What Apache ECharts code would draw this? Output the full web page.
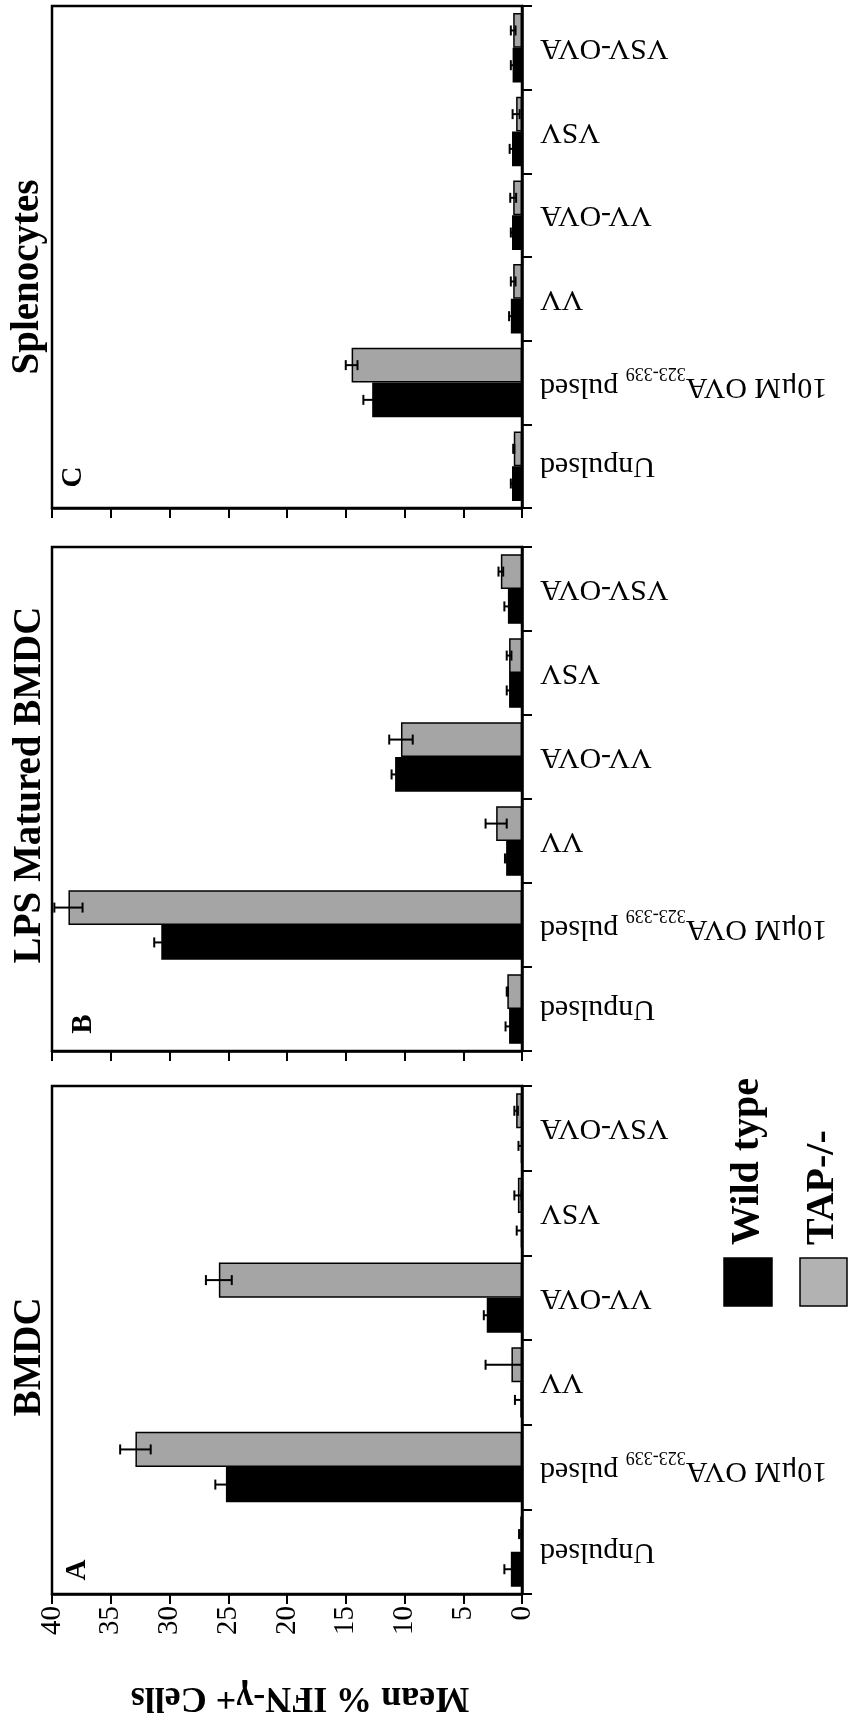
<!DOCTYPE html>
<html>
<head>
<meta charset="utf-8">
<title>Mean % IFN-γ+ Cells</title>
<script src="https://cdn.jsdelivr.net/npm/echarts@6/dist/echarts.min.js"></script>
<style>
  html, body { margin: 0; padding: 0; background: #fff; }
  #chart { width: 866px; height: 1716px; }
</style>
</head>
<body>
<div id="chart"></div>
<script>
// Stimulation conditions, listed from the bottom of each panel upwards
const categories = ['Unpulsed', '10μM OVA323-339 pulsed', 'VV', 'VV-OVA', 'VSV', 'VSV-OVA'];

// Panel A: BMDC
const bmdcWild    = [0.95, 25.2, 0.15, 3.0, 0.1, 0.1];
const bmdcWildErr = [0.55, 0.9, 0.45, 0.25, 0.35, 0.2];
const bmdcTap     = [0.15, 32.9, 0.9, 25.8, 0.35, 0.5];
const bmdcTapErr  = [0.1, 1.3, 2.2, 1.1, 0.3, 0.15];

// Panel B: LPS matured BMDC
const lpsWild    = [1.1, 30.7, 1.35, 10.8, 1.1, 1.2];
const lpsWildErr = [0.3, 0.6, 0.1, 0.3, 0.2, 0.3];
const lpsTap     = [1.25, 38.6, 2.2, 10.3, 1.1, 1.8];
const lpsTapErr  = [0.05, 1.2, 0.9, 1.0, 0.2, 0.2];

// Panel C: splenocytes
const splWild    = [0.85, 12.75, 0.95, 0.85, 0.85, 0.8];
const splWildErr = [0.1, 0.75, 0.15, 0.1, 0.2, 0.15];
const splTap     = [0.7, 14.5, 0.75, 0.75, 0.5, 0.75];
const splTapErr  = [0.05, 0.5, 0.2, 0.25, 0.3, 0.2];

const panelTitles  = ['BMDC', 'LPS Matured BMDC', 'Splenocytes'];
const panelLetters = ['A', 'B', 'C'];
const seriesNames  = ['Wild type', 'TAP-/-'];
const axisTitle    = 'Mean % IFN-γ+ Cells';
const valueMin = 0, valueMax = 40, valueStep = 5;

const panels = [
  { wild: bmdcWild, wildErr: bmdcWildErr, tap: bmdcTap, tapErr: bmdcTapErr },
  { wild: lpsWild,  wildErr: lpsWildErr,  tap: lpsTap,  tapErr: lpsTapErr },
  { wild: splWild,  wildErr: splWildErr,  tap: splTap,  tapErr: splTapErr }
];

const FONT = "'Liberation Serif', 'DejaVu Serif', serif";
const BLACK = '#000000';
const GREY = '#a5a5a5';

// grid boxes, bottom panel first
const grids = [
  { left: 52, top: 1086, width: 470, height: 508 },
  { left: 52, top: 547,  width: 470, height: 504 },
  { left: 52, top: 6,    width: 470, height: 502 }
];
const CAT_GAP = 0.17;   // share of a category band left empty

function labelFormatter(v) {
  const m = v.match(/^(.*OVA)(\d+-\d+)(.*)$/);
  if (m) return '{m|' + m[1] + '}{s|' + m[2] + '}{m|' + m[3] + '}';
  return '{n|' + v + '}';
}

function errorRenderer(side) {
  // side: +1 for the lower bar of a pair, -1 for the upper one
  return function (params, api) {
    const cat = api.value(0), v = api.value(1), e = api.value(2);
    const lo = Math.max(0, v - e), hi = v + e;
    const band = api.size([0, 1])[1];
    const off = side * band * (1 - CAT_GAP) / 4;
    const pHi = api.coord([hi, cat]);
    const pLo = api.coord([lo, cat]);
    const y = pHi[1] + off;
    const cap = 5;
    const st = { stroke: BLACK, lineWidth: 2 };
    const children = [
      { type: 'line', shape: { x1: pLo[0], y1: y, x2: pHi[0], y2: y }, style: st },
      { type: 'line', shape: { x1: pHi[0], y1: y - cap, x2: pHi[0], y2: y + cap }, style: st }
    ];
    if (v - e > 0) {
      children.push({ type: 'line', shape: { x1: pLo[0], y1: y - cap, x2: pLo[0], y2: y + cap }, style: st });
    }
    return { type: 'group', children: children };
  };
}

const gridOpts = [], xAxes = [], yAxes = [], series = [];
panels.forEach(function (p, i) {
  gridOpts.push(Object.assign({ show: true, borderColor: BLACK, borderWidth: 2.5, backgroundColor: 'transparent' }, grids[i]));
  xAxes.push({
    type: 'value', gridIndex: i, min: valueMin, max: valueMax, interval: valueStep, inverse: true,
    axisLine: { show: true, lineStyle: { color: BLACK, width: 2.5 } },
    axisTick: { show: true, length: 10, lineStyle: { color: BLACK, width: 2 } },
    splitLine: { show: false },
    axisLabel: { show: i === 0, rotate: 90, margin: 12, color: BLACK, fontSize: 29, fontFamily: FONT }
  });
  yAxes.push({
    type: 'category', gridIndex: i, position: 'right', data: categories,
    axisLine: { show: true, lineStyle: { color: BLACK, width: 2.5 } },
    axisTick: { show: true, length: 10, lineStyle: { color: BLACK, width: 2 } },
    axisLabel: {
      show: true, rotate: 180, align: 'right', verticalAlign: 'middle', margin: 18,
      color: BLACK, fontFamily: FONT, formatter: labelFormatter,
      rich: {
        n: { fontSize: 30, fontFamily: FONT, color: BLACK, lineHeight: 34 },
        m: { fontSize: 30, fontFamily: FONT, color: BLACK, lineHeight: 38, verticalAlign: 'top' },
        s: { fontSize: 18, fontFamily: FONT, color: BLACK, lineHeight: 18, verticalAlign: 'bottom' }
      }
    }
  });
  // the first bar of a pair is laid out on top, so TAP-/- comes first
  series.push({
    name: seriesNames[1], type: 'bar', xAxisIndex: i, yAxisIndex: i, data: p.tap,
    barGap: '0%', barCategoryGap: (CAT_GAP * 100) + '%',
    itemStyle: { color: GREY, borderColor: BLACK, borderWidth: 1.5 }, animation: false
  });
  series.push({
    name: seriesNames[0], type: 'bar', xAxisIndex: i, yAxisIndex: i, data: p.wild,
    barGap: '0%', barCategoryGap: (CAT_GAP * 100) + '%',
    itemStyle: { color: BLACK, borderColor: BLACK, borderWidth: 1.5 }, animation: false
  });
  series.push({
    type: 'custom', xAxisIndex: i, yAxisIndex: i, z: 5, animation: false,
    renderItem: errorRenderer(1),
    data: p.wild.map(function (v, k) { return [k, v, p.wildErr[k]]; }),
    encode: { y: 0, x: 1 }
  });
  series.push({
    type: 'custom', xAxisIndex: i, yAxisIndex: i, z: 5, animation: false,
    renderItem: errorRenderer(-1),
    data: p.tap.map(function (v, k) { return [k, v, p.tapErr[k]]; }),
    encode: { y: 0, x: 1 }
  });
});

// panel titles and letters, rotated to run up the page
const titlePos  = [[30, 1357], [30, 785], [28, 277]];
const letterPos = [[78, 1570], [84, 1024], [74, 477]];
const graphics = [];
panels.forEach(function (p, i) {
  graphics.push({
    type: 'text', x: titlePos[i][0], y: titlePos[i][1], rotation: Math.PI / 2,
    style: { text: panelTitles[i], fill: BLACK, font: 'bold 39px ' + FONT, textAlign: 'center', textVerticalAlign: 'middle' }
  });
  graphics.push({
    type: 'text', x: letterPos[i][0], y: letterPos[i][1], rotation: Math.PI / 2,
    style: { text: panelLetters[i], fill: BLACK, font: 'bold 29px ' + FONT, textAlign: 'center', textVerticalAlign: 'middle' }
  });
});

// value axis title, upside down under the bottom panel
graphics.push({
  type: 'text', x: 300, y: 1697, rotation: Math.PI,
  style: { text: axisTitle, fill: BLACK, font: 'bold 36px ' + FONT, textAlign: 'center', textVerticalAlign: 'middle' }
});

// key for the two genotypes
graphics.push(
  { type: 'rect', shape: { x: 724, y: 1258, width: 48, height: 48 }, style: { fill: BLACK, stroke: BLACK, lineWidth: 1.5 } },
  { type: 'rect', shape: { x: 800, y: 1258, width: 47, height: 48 }, style: { fill: '#b2b2b2', stroke: BLACK, lineWidth: 1.5 } },
  { type: 'text', x: 748, y: 1245, rotation: Math.PI / 2,
    style: { text: seriesNames[0], fill: BLACK, font: 'bold 40px ' + FONT, textAlign: 'left', textVerticalAlign: 'middle' } },
  { type: 'text', x: 823, y: 1245, rotation: Math.PI / 2,
    style: { text: seriesNames[1], fill: BLACK, font: 'bold 40px ' + FONT, textAlign: 'left', textVerticalAlign: 'middle' } }
);

const chart = echarts.init(document.getElementById('chart'), null, { renderer: 'canvas' });
chart.setOption({
  backgroundColor: '#ffffff',
  animation: false,
  grid: gridOpts,
  xAxis: xAxes,
  yAxis: yAxes,
  series: series,
  graphic: graphics
});
</script>
</body>
</html>
